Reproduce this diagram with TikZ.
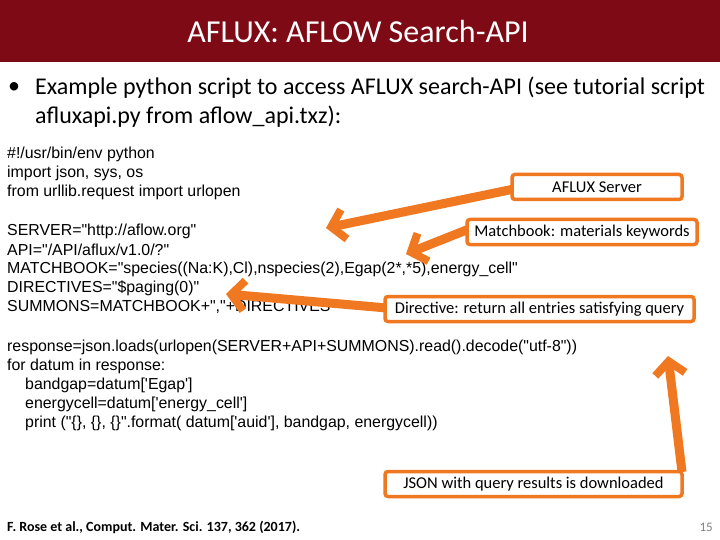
\documentclass[tikz,border=0pt]{standalone}
\usepackage{fontspec}
\setmainfont{Carlito}
\newfontfamily\codefont{Liberation Sans}
\usetikzlibrary{arrows.meta}
\definecolor{titlered}{HTML}{7D0A14}
\definecolor{orng}{HTML}{F07820}
\tikzset{
 code/.style={anchor=west,inner sep=0pt,font=\codefont\fontsize{15.9}{17}\selectfont},
 callout/.style={draw=orng,line width=3.5pt,rounded corners=3pt,fill=white,inner sep=0pt,font=\fontsize{16.5}{18}\selectfont},
 arr/.style={draw=orng,line width=9pt,-{Straight Barb[length=13pt,width=30pt,line width=8pt]}},
 bl/.style={anchor=west,inner sep=0pt,font=\fontsize{24}{26}\selectfont}
}
\begin{document}
\begin{tikzpicture}[x=1pt,y=-1pt]
\useasboundingbox (0,0) rectangle (720,540);
\fill[titlered] (0,0) rectangle (720,62);
\node[text=white,font=\fontsize{32}{36}\selectfont] (title) at (358,32) {AFLUX: AFLOW Search-API};
\node[bl] (dot) at (8,88) {\textbullet};
\node[bl] (b1) at (35,88) {Example python script to access AFLUX search-API (see tutorial script};
\node[bl] (b2) at (35,117) {afluxapi.py from aflow\_api.txz):};
\node[code] (c1) at (7,154) {\#!/usr/bin/env python};
\node[code] (c2) at (7,173) {import json, sys, os};
\node[code] (c3) at (7,192) {from urllib.request import urlopen};
\node[code] (c4) at (7,231) {SERVER="http://aflow.org"};
\node[code] (c5) at (7,250) {API="/API/aflux/v1.0/?"};
\node[code] (c6) at (7,269) {MATCHBOOK="species((Na:K),Cl),nspecies(2),Egap(2*,*5),energy\_cell"};
\node[code] (c7) at (7,288) {DIRECTIVES="\$paging(0)"};
\node[code] (c8) at (7,307) {SUMMONS=MATCHBOOK+","+DIRECTIVES};
\node[code] (c9) at (7,347) {response=json.loads(urlopen(SERVER+API+SUMMONS).read().decode("utf-8"))};
\node[code] (c10) at (7,366) {for datum in response:};
\node[code] (c11) at (25,385) {bandgap=datum['Egap']};
\node[code] (c12) at (25,404) {energycell=datum['energy\_cell']};
\node[code] (c13) at (25,423) {print ("\{\}, \{\}, \{\}".format( datum['auid'], bandgap, energycell))};
\coordinate (aS) at (326,228);
\coordinate (aM) at (406,254);
\coordinate (aD) at (226,294);
\coordinate (aJ) at (668,356);
\draw[arr] (514,189) -- (aS);
\draw[arr] (469,229) -- (aM);
\draw[arr] (387,308) -- (aD);
\draw[arr] (682,472) -- (aJ);
\node[callout,minimum width=170pt,minimum height=25pt] (srv) at (597,187) {AFLUX Server};
\node[callout,minimum width=230pt,minimum height=25pt] (mb) at (582,232) {Matchbook: materials keywords};
\node[callout,minimum width=309pt,minimum height=25pt] (dir) at (539.5,309) {Directive: return all entries satisfying query};
\node[callout,minimum width=297pt,minimum height=25pt] (json) at (533.5,484) {JSON with query results is downloaded};
\node[anchor=west,inner sep=0pt,font=\bfseries\fontsize{14}{16}\selectfont] (ref) at (7,527) {F. Rose et al., Comput. Mater. Sci. 137, 362 (2017).};
\node[anchor=east,inner sep=0pt,text=gray,font=\fontsize{13}{14}\selectfont] (pg) at (713,527) {15};
\end{tikzpicture}
\end{document}
